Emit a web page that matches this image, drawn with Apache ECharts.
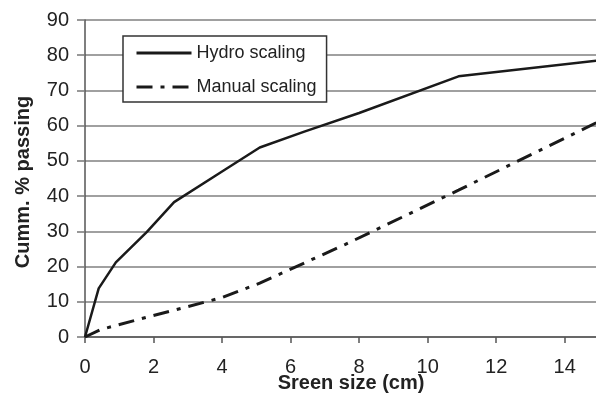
<!DOCTYPE html>
<html>
<head>
<meta charset="utf-8">
<script src="https://cdn.jsdelivr.net/npm/echarts@6/dist/echarts.min.js"></script>
<style>
  html, body { margin: 0; padding: 0; background: #fff; }
  #chart { width: 596px; height: 394px; }
</style>
</head>
<body>
<div id="chart"></div>
<script>
// screen size (cm) and cumulative % passing
const hydroX = [0, 0.4, 0.9, 1.8, 2.6, 4.0, 5.1, 6.4, 8.0, 10.9, 15]
const hydroY = [0, 13.8, 21.2, 29.8, 38.3, 47, 53.8, 58.3, 63.6, 74, 78.5]
const manualX = [0, 0.45, 1.8, 2.6, 4.0, 5.1, 7.6, 10.9, 15]
const manualY = [0, 2.1, 5.6, 7.6, 11.2, 15.3, 26.3, 41.7, 61.2]
const seriesNames = ['Hydro scaling', 'Manual scaling']

const pairs = (xs, ys) => xs.map((x, i) => [x, ys[i]])

const chart = echarts.init(document.getElementById('chart'))

const textColor = '#222'
const font = 'Liberation Sans, Arial, sans-serif'

const option = {
  backgroundColor: '#fff',
  animation: false,
  grid: { left: 85, right: -3, top: 20, bottom: 57, outerBoundsMode: 'none' },
  legend: {
    orient: 'vertical',
    left: 123,
    top: 36,
    padding: [8, 10, 6, 12],
    itemWidth: 55,
    itemHeight: 14,
    itemGap: 16,
    itemTextGap: 5,
    borderColor: '#333',
    borderWidth: 1.5,
    backgroundColor: '#fff',
    itemStyle: { opacity: 0 },
    lineStyle: { width: 3 },
    textStyle: { color: textColor, fontSize: 18, fontFamily: font },
    data: seriesNames
  },
  xAxis: {
    type: 'value',
    min: 0,
    max: 15,
    interval: 2,
    name: 'Sreen size (cm)',
    nameLocation: 'middle',
    nameGap: 36,
    nameMoveOverlap: false,
    nameTextStyle: { color: textColor, fontSize: 20, fontWeight: 'bold', fontFamily: font, padding: [0, 0, 0, 18] },
    axisLine: { show: true, lineStyle: { color: '#555', width: 1.5 } },
    axisTick: { show: true, length: 6, lineStyle: { color: '#555', width: 1.5 } },
    axisLabel: { color: textColor, fontSize: 20, fontFamily: font, margin: 20, showMaxLabel: false },
    splitLine: { show: false }
  },
  yAxis: {
    type: 'value',
    min: 0,
    max: 90,
    interval: 10,
    name: 'Cumm. % passing',
    nameLocation: 'middle',
    nameGap: 52,
    nameMoveOverlap: false,
    nameTextStyle: { color: textColor, fontSize: 20, fontWeight: 'bold', fontFamily: font, padding: [0, 7, 0, 0] },
    axisLine: { show: true, lineStyle: { color: '#555', width: 1.5 } },
    axisTick: { show: true, length: 8, lineStyle: { color: '#777', width: 1.5 } },
    axisLabel: { color: textColor, fontSize: 20, fontFamily: font, margin: 16 },
    splitLine: { show: true, lineStyle: { color: '#808080', width: 1.5 } }
  },
  series: [
    {
      name: seriesNames[0],
      type: 'line',
      symbol: 'none',
      data: pairs(hydroX, hydroY),
      lineStyle: { color: '#1a1a1a', width: 2.5 },
      itemStyle: { color: '#1a1a1a' }
    },
    {
      name: seriesNames[1],
      type: 'line',
      symbol: 'none',
      data: pairs(manualX, manualY),
      lineStyle: { color: '#1a1a1a', width: 3, type: [16, 8, 4, 8] },
      itemStyle: { color: '#1a1a1a' }
    }
  ]
}

chart.setOption(option)
</script>
</body>
</html>
